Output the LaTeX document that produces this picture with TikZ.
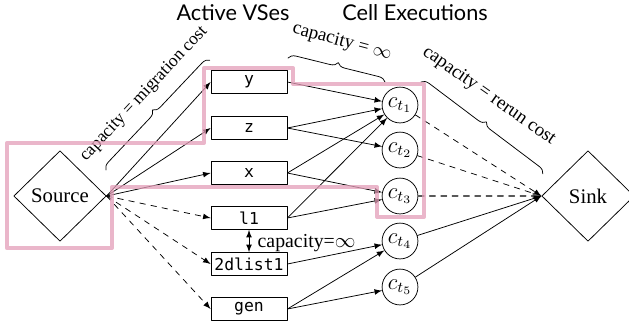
\documentclass[tikz,border=0pt]{standalone}
\usepackage{fontspec}
\setmainfont{Liberation Serif}
\setsansfont{Lato}
\setmonofont{DejaVu Sans Mono}
\usetikzlibrary{arrows,shapes.geometric,decorations.pathreplacing}
\definecolor{cutpink}{rgb}{0.89,0.62,0.72}
\definecolor{dashgray}{rgb}{0.35,0.35,0.35}
\tikzset{
  vsbox/.style={draw,minimum width=40.3pt,minimum height=12.2pt,inner sep=0pt,font=\ttfamily\fontsize{8.7}{10}\selectfont},
  celnode/.style={circle,draw,minimum size=19pt,inner sep=0pt,font=\fontsize{12}{14}\selectfont},
  endnode/.style={diamond,draw,minimum width=49pt,minimum height=48pt,inner sep=0pt},
  capbrace/.style={decorate,decoration={brace,amplitude=4pt}},
  captext/.style={font=\fontsize{10}{12}\selectfont},
  headtext/.style={font=\sffamily\fontsize{11.5}{14}\selectfont}
}
\begin{document}
\begin{tikzpicture}[line cap=round,line join=round,>=latex,x=0.53pt,y=-0.53pt,font=\fontsize{11}{13}\selectfont]
\useasboundingbox (0,0) rectangle (629,330);
\node[endnode] (src) at (60,196) {Source};
\node[endnode] (snk) at (588,196) {Sink};
\node[vsbox] (vy) at (249,82) {y};
\node[vsbox] (vz) at (249,128) {z};
\node[vsbox] (vx) at (249,173) {x};
\node[vsbox] (vl) at (249,218) {l1};
\node[vsbox] (vd) at (249,264) {2dlist1};
\node[vsbox] (vg) at (249,309) {gen};
\node[celnode] (c1) at (400,105) {$c_{t_1}$};
\node[celnode] (c2) at (400,150) {$c_{t_2}$};
\node[celnode] (c3) at (400,196) {$c_{t_3}$};
\node[celnode] (c4) at (400,241) {$c_{t_4}$};
\node[celnode] (c5) at (400,287) {$c_{t_5}$};
\node[headtext] (actv) at (233,13) {Active VSes};
\node[headtext] (cexe) at (415,13) {Cell Executions};
\draw [->] (src.east) -- (vy.west);
\draw [->] (src.east) -- (vz.west);
\draw [->] (src.east) -- (vx.west);
\draw [->,dashed] (src.east) -- (vl.west);
\draw [->,dashed] (src.east) -- (vd.west);
\draw [->,dashed] (src.east) -- (vg.west);
\draw [->] (vy.east) -- (c1);
\draw [->] (vz.east) -- (c1);
\draw [->] (vz.east) -- (c2);
\draw [->] (vx.east) -- (c1);
\draw [->] (vx.east) -- (c3);
\draw [->] (vl.east) -- (c1);
\draw [->] (vl.east) -- (c3);
\draw [->] (vd.east) -- (c4);
\draw [->] (vg.east) -- (c4);
\draw [->] (vg.east) -- (c5);
\draw [->,dashed] (c1) -- (snk.west);
\draw [->,dashed] (c2) -- (snk.west);
\draw [->,dashed,color=dashgray,semithick] (c3) -- (snk.west);
\draw [->] (c4) -- (snk.west);
\draw [->] (c5) -- (snk.west);
\draw [<->] (vl.south) -- (vd.north);
\node[anchor=west,font=\fontsize{10.5}{12}\selectfont] (capmid) at (251,243) {capacity=$\infty$};
\draw [capbrace] (106,170) -- (210,60);
\draw [capbrace] (288,58) -- (385,82);
\draw [capbrace] (421,82) -- (543,174);
\node[captext,font=\fontsize{9.3}{11}\selectfont,rotate=47] (capmig) at (144,94) {capacity = migration cost};
\node[captext,rotate=-15] (capinf) at (342,42) {capacity = $\infty$};
\node[captext,rotate=-35] (caprer) at (489,96) {capacity = rerun cost};
\draw [color=cutpink,line width=2.2pt,opacity=0.75] (7,143) -- (204,143) -- (204,68) -- (293,68) -- (293,84) -- (424,84) -- (424,217) -- (377,217) -- (377,187) -- (112,187) -- (112,248) -- (7,248) -- cycle;
\end{tikzpicture}
\end{document}
